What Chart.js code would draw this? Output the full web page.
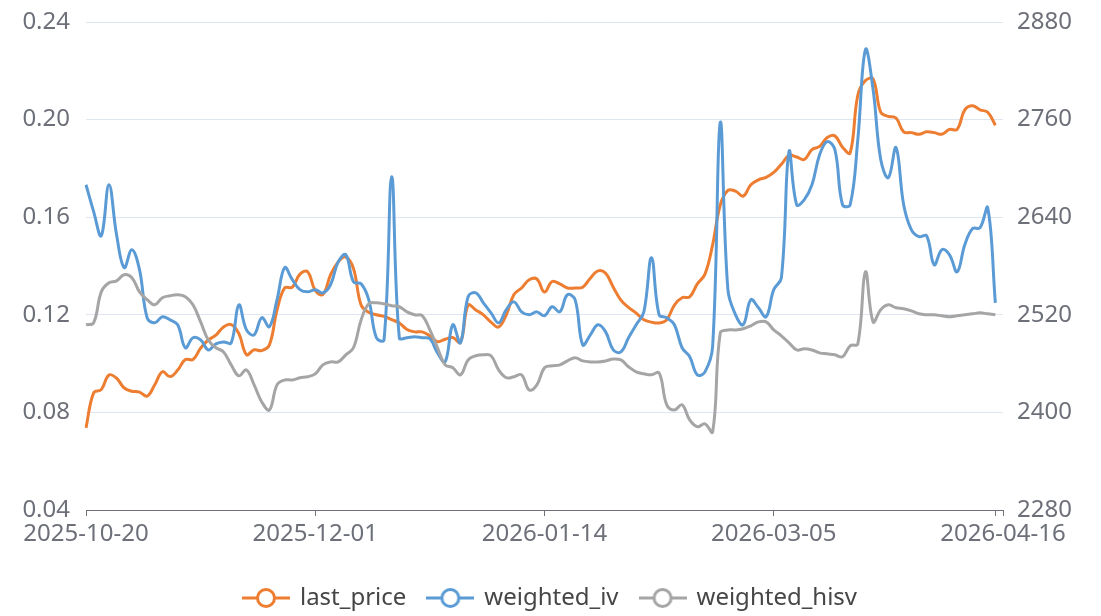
<!DOCTYPE html>
<html>
<head>
<meta charset="utf-8">
<script src="https://cdn.jsdelivr.net/npm/chart.js@4.4.1/dist/chart.umd.min.js"></script>
<style>
  body { margin: 0; background: #ffffff; }
  #wrap { width: 1101px; height: 616px; position: relative; }
</style>
</head>
<body>
<div id="wrap"><canvas id="ivChart"></canvas></div>
<script>
// trading days, 2025-10-20 .. 2026-04-16
var dates = [
  '2025-10-20','2025-10-21','2025-10-22','2025-10-23','2025-10-24',
  '2025-10-27','2025-10-28','2025-10-29','2025-10-30','2025-10-31',
  '2025-11-03','2025-11-04','2025-11-05','2025-11-06','2025-11-07',
  '2025-11-10','2025-11-11','2025-11-12','2025-11-13','2025-11-14',
  '2025-11-17','2025-11-18','2025-11-19','2025-11-20','2025-11-21',
  '2025-11-24','2025-11-25','2025-11-26','2025-11-27','2025-11-28',
  '2025-12-01','2025-12-02','2025-12-03','2025-12-04','2025-12-05',
  '2025-12-08','2025-12-09','2025-12-10','2025-12-11','2025-12-12',
  '2025-12-15','2025-12-16','2025-12-17','2025-12-18','2025-12-19',
  '2025-12-22','2025-12-23','2025-12-24','2025-12-25','2025-12-26',
  '2025-12-29','2025-12-30','2025-12-31',
  '2026-01-05','2026-01-06','2026-01-07','2026-01-08','2026-01-09',
  '2026-01-12','2026-01-13','2026-01-14','2026-01-15','2026-01-16',
  '2026-01-19','2026-01-20','2026-01-21','2026-01-22','2026-01-23',
  '2026-01-26','2026-01-27','2026-01-28','2026-01-29','2026-01-30',
  '2026-02-02','2026-02-03','2026-02-04','2026-02-05','2026-02-06',
  '2026-02-09','2026-02-10','2026-02-11','2026-02-12','2026-02-13',
  '2026-02-24','2026-02-25','2026-02-26','2026-02-27',
  '2026-03-02','2026-03-03','2026-03-04','2026-03-05','2026-03-06',
  '2026-03-09','2026-03-10','2026-03-11','2026-03-12','2026-03-13',
  '2026-03-16','2026-03-17','2026-03-18','2026-03-19','2026-03-20',
  '2026-03-23','2026-03-24','2026-03-25','2026-03-26','2026-03-27',
  '2026-03-30','2026-03-31','2026-04-01','2026-04-02','2026-04-03',
  '2026-04-06','2026-04-07','2026-04-08','2026-04-09','2026-04-10',
  '2026-04-13','2026-04-14','2026-04-15','2026-04-16'
];

var lastPrice = [
  2381,2424,2428,2446,2442,2430,2426,2425,2420,2434,
  2450,2444,2452,2465,2465,2479,2489,2495,2505,2508,
  2497,2471,2477,2476,2483,2526,2553,2554,2570,2573,
  2550,2545,2569,2585,2591,2577,2532,2523,2520,2518,
  2514,2510,2502,2499,2499,2494,2487,2490,2492,2486,
  2532,2526,2520,2511,2505,2520,2545,2553,2563,2564,
  2548,2561,2558,2553,2553,2554,2565,2574,2571,2554,
  2538,2529,2522,2514,2511,2510,2514,2532,2541,2542,
  2558,2570,2606,2655,2673,2672,2666,2680,2686,2689,
  2695,2705,2716,2714,2711,2723,2727,2738,2740,2726,
  2719,2790,2808,2810,2769,2764,2762,2745,2744,2742,
  2745,2744,2742,2748,2748,2772,2777,2772,2769,2753,
  null
];

var weightedIv = [
  0.1733,0.1623,0.1524,0.1733,0.1528,0.1393,0.1467,0.1385,0.1188,0.1167,
  0.1192,0.1179,0.1159,0.1065,0.1106,0.1097,0.1056,0.1081,0.1089,0.1085,
  0.1241,0.1138,0.1118,0.1188,0.1151,0.1262,0.1393,0.1344,0.1303,0.1294,
  0.1303,0.1290,0.1323,0.1417,0.1446,0.1335,0.1327,0.1262,0.1106,0.1097,
  0.1766,0.1106,0.1106,0.1110,0.1106,0.1102,0.1044,0.1007,0.1159,0.1085,
  0.1274,0.1290,0.1249,0.1208,0.1167,0.1221,0.1253,0.1212,0.1200,0.1212,
  0.1196,0.1233,0.1212,0.1282,0.1262,0.1077,0.1118,0.1159,0.1130,0.1056,
  0.1048,0.1106,0.1159,0.1212,0.1434,0.1200,0.1188,0.1159,0.1065,0.1028,
  0.0954,0.0966,0.1069,0.1988,0.1303,0.1200,0.1159,0.1262,0.1229,0.1192,
  0.1303,0.1352,0.1869,0.1651,0.1672,0.1733,0.1856,0.1910,0.1877,0.1651,
  0.1651,0.1918,0.2287,0.2123,0.1836,0.1762,0.1885,0.1651,0.1549,0.1520,
  0.1524,0.1405,0.1467,0.1446,0.1376,0.1487,0.1553,0.1557,0.1639,0.1249,
  null
];

var weightedHisv = [
  0.1159,0.1167,0.1294,0.1331,0.1339,0.1364,0.1352,0.1294,0.1262,0.1241,
  0.1270,0.1278,0.1282,0.1274,0.1241,0.1171,0.1097,0.1065,0.1048,0.0995,
  0.0950,0.0974,0.0913,0.0843,0.0810,0.0913,0.0933,0.0933,0.0942,0.0946,
  0.0958,0.0995,0.1007,0.1007,0.1036,0.1065,0.1179,0.1245,0.1249,0.1245,
  0.1237,0.1233,0.1212,0.1200,0.1196,0.1138,0.1065,0.0995,0.0983,0.0954,
  0.1015,0.1032,0.1036,0.1032,0.0974,0.0942,0.0946,0.0954,0.0892,0.0913,
  0.0983,0.0991,0.0995,0.1011,0.1024,0.1011,0.1007,0.1007,0.1011,0.1019,
  0.1015,0.0987,0.0966,0.0958,0.0954,0.0962,0.0831,0.0810,0.0831,0.0769,
  0.0741,0.0753,0.0720,0.1126,0.1138,0.1138,0.1143,0.1155,0.1171,0.1171,
  0.1138,0.1114,0.1085,0.1056,0.1061,0.1056,0.1044,0.1040,0.1036,0.1028,
  0.1073,0.1081,0.1376,0.1171,0.1221,0.1241,0.1229,0.1225,0.1216,0.1204,
  0.1200,0.1200,0.1196,0.1192,0.1196,0.1200,0.1204,0.1208,0.1204,0.1200,
  null
];

var labelEvery = 30;
var axisFont = { family: "'Noto Sans', sans-serif", size: 24 };
var axisGrey = '#6E7079';

// line with hollow circle, as in the original legend
function legendIcon(color) {
  var c = document.createElement('canvas');
  c.width = 48; c.height = 24;
  var g = c.getContext('2d');
  g.strokeStyle = color;
  g.lineWidth = 3;
  g.beginPath(); g.moveTo(0, 12); g.lineTo(48, 12); g.stroke();
  g.beginPath(); g.arc(24, 12, 8.5, 0, Math.PI * 2);
  g.fillStyle = '#ffffff'; g.fill(); g.stroke();
  return c;
}

function series(label, data, color, axis, order) {
  return {
    label: label,
    data: data,
    yAxisID: axis,
    borderColor: color,
    backgroundColor: color,
    borderWidth: 3,
    pointRadius: 0,
    pointHoverRadius: 0,
    pointStyle: legendIcon(color),
    tension: 0.4,
    fill: false,
    order: order
  };
}

// fixed side widths, no extra label padding on top
function sideFit(width) {
  return function (s) {
    s.width = width;
    s.paddingTop = 0;
    s.paddingBottom = 0;
  };
}

new Chart(document.getElementById('ivChart'), {
  type: 'line',
  data: {
    labels: dates,
    datasets: [
      series('last_price', lastPrice, '#ED7D31', 'y1', 3),
      series('weighted_iv', weightedIv, '#5B9BD5', 'y', 2),
      series('weighted_hisv', weightedHisv, '#A5A5A5', 'y', 1)
    ]
  },
  options: {
    responsive: true,
    maintainAspectRatio: false,
    animation: false,
    layout: { padding: { top: 22, left: 0, right: 0, bottom: -4 } },
    plugins: {
      tooltip: { enabled: false },
      legend: {
        position: 'bottom',
        labels: {
          usePointStyle: true,
          pointStyleWidth: 44,
          padding: 22,
          color: '#464646',
          font: { family: "'Noto Sans', sans-serif", size: 24 },
          sort: function (a, b) { return a.datasetIndex - b.datasetIndex; }
        }
      }
    },
    scales: {
      x: {
        offset: false,
        afterFit: function (s) { s.height = 54; },
        grid: {
          drawOnChartArea: false,
          drawTicks: true,
          tickLength: 6,
          color: axisGrey
        },
        border: { display: true, color: axisGrey, width: 1 },
        ticks: {
          autoSkip: false,
          maxRotation: 0,
          padding: 4,
          color: axisGrey,
          font: axisFont,
          callback: function (v, i) {
            if (i % labelEvery === 0) return dates[i];
            if (i === dates.length - 2) return '';
            return null;
          }
        }
      },
      y: {
        position: 'left',
        min: 0.04,
        max: 0.24,
        afterFit: sideFit(86),
        border: { display: false },
        grid: { color: '#E0E6F1', drawTicks: false },
        ticks: {
          stepSize: 0.04,
          padding: 16,
          color: axisGrey,
          font: axisFont,
          callback: function (v) { return v.toFixed(2); }
        }
      },
      y1: {
        position: 'right',
        min: 2280,
        max: 2880,
        afterFit: sideFit(98),
        border: { display: false },
        grid: { drawOnChartArea: false, drawTicks: false },
        ticks: {
          stepSize: 120,
          padding: 14,
          color: axisGrey,
          font: axisFont,
          callback: function (v) { return String(v); }
        }
      }
    }
  }
});
</script>
</body>
</html>
